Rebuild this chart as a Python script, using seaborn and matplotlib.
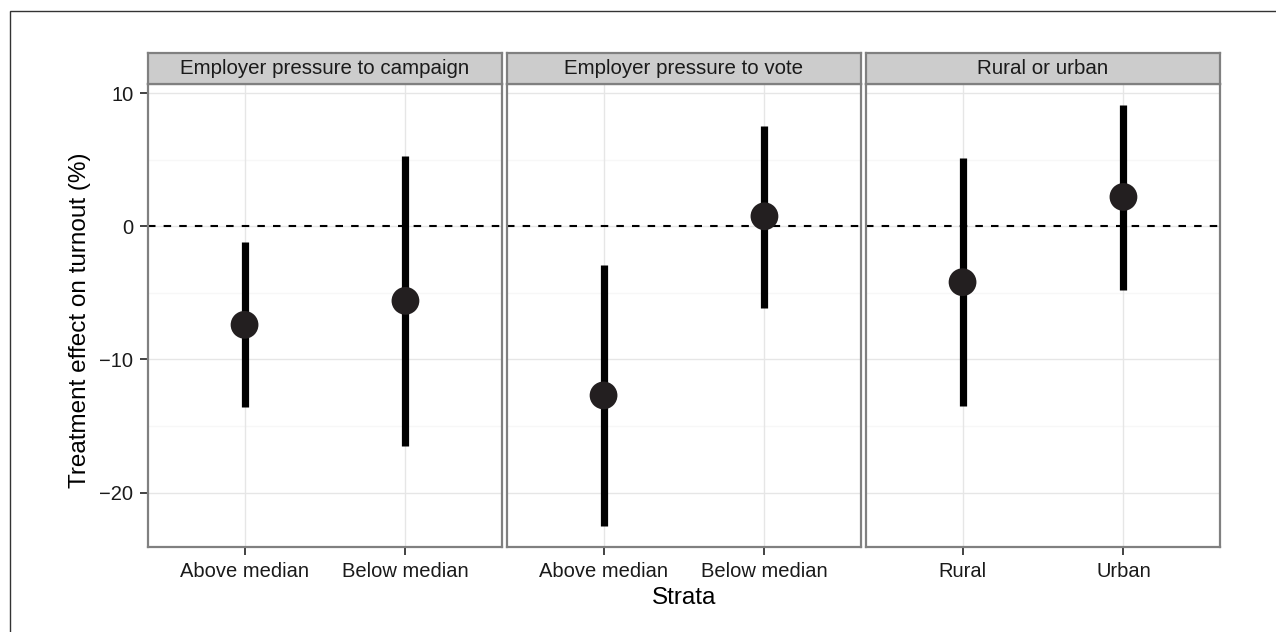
import numpy as np
import pandas as pd
import matplotlib
matplotlib.use("Agg")
import matplotlib.pyplot as plt
from matplotlib.patches import Rectangle
import seaborn as sns

# ---- data ----
panels = ["Employer pressure to campaign", "Employer pressure to vote", "Rural or urban"]
strata_1 = ["Above median", "Below median"]
strata_2 = ["Above median", "Below median"]
strata_3 = ["Rural", "Urban"]
estimate_1 = [-7.4, -5.6]
lower_1 = [-13.6, -16.5]
upper_1 = [-1.2, 5.3]
estimate_2 = [-12.7, 0.75]
lower_2 = [-22.5, -6.1]
upper_2 = [-2.9, 7.55]
estimate_3 = [-4.2, 2.2]
lower_3 = [-13.5, -4.8]
upper_3 = [5.15, 9.1]

y_major = [-20, -10, 0, 10]
y_minor = [-15, -5, 5]

frames = []
for p, s, e, lo, hi in zip(panels,
                           [strata_1, strata_2, strata_3],
                           [estimate_1, estimate_2, estimate_3],
                           [lower_1, lower_2, lower_3],
                           [upper_1, upper_2, upper_3]):
    frames.append(pd.DataFrame({"panel": p, "strata": s, "est": e, "lo": lo, "hi": hi}))
df = pd.concat(frames, ignore_index=True)

sns.set_theme(style="white")
plt.rcParams["font.family"] = ["Liberation Sans", "DejaVu Sans"]

W, H = 1276, 632
fig = plt.figure(figsize=(W / 100, H / 100), dpi=100)

# outer border of the figure
fig.patches.append(Rectangle((9.5 / W, -0.1), 1.2, 1.1 - 10.5 / H,
                             transform=fig.transFigure, fill=False,
                             edgecolor="#333333", linewidth=1.0))

panel_left = [148, 507, 866]
panel_w = 354
pan_top, pan_bot = 84, 547
strip_top = 53
grid_major = "#e6e6e6"
grid_minor = "#f7f7f7"
frame_col = "#808080"

ylim = (-24.08, 10.68)
tick_fs = 14.5

for i, p in enumerate(panels):
    sub = df[df["panel"] == p].reset_index(drop=True)
    ax = fig.add_axes([panel_left[i] / W, 1 - pan_bot / H, panel_w / W, (pan_bot - pan_top) / H])
    pos = np.arange(len(sub))
    # grid
    for yv in y_minor:
        ax.axhline(yv, color=grid_minor, lw=1.0, zorder=0)
    for yv in y_major:
        ax.axhline(yv, color=grid_major, lw=1.0, zorder=0)
    for xv in pos:
        ax.axvline(xv, color=grid_major, lw=1.0, zorder=0)
    # reference line
    ax.axhline(0, color="black", lw=1.5, dashes=(3.6, 3.9), zorder=1)
    # error bars
    ax.vlines(pos, sub["lo"], sub["hi"], color="black", lw=5.2, zorder=2)
    # points
    sns.scatterplot(data=sub, x=pos, y="est", ax=ax, s=400, color="#231f20",
                    edgecolor="none", zorder=3, legend=False)
    ax.set_xlim(-0.6, 1.6)
    ax.set_ylim(*ylim)
    ax.set_xticks(pos)
    ax.set_xticklabels(sub["strata"], fontsize=tick_fs, color="#1a1a1a")
    ax.set_yticks(y_major)
    if i == 0:
        ax.set_yticklabels([str(v).replace("-", "\u2212") for v in y_major],
                           fontsize=tick_fs, color="#1a1a1a")
    else:
        ax.set_yticklabels([])
        ax.tick_params(axis="y", length=0)
    ax.tick_params(axis="both", direction="out", length=6, width=1.3, color="#333333", pad=4.5,
                   bottom=True, left=(i == 0))
    ax.set_xlabel("")
    ax.set_ylabel("")
    for sp in ax.spines.values():
        sp.set_visible(True)
        sp.set_color(frame_col)
        sp.set_linewidth(1.6)
    ax.set_facecolor("white")

    # strip
    sax = fig.add_axes([panel_left[i] / W, 1 - pan_top / H, panel_w / W, (pan_top - strip_top) / H])
    sax.set_facecolor("#cccccc")
    sax.set_xticks([])
    sax.set_yticks([])
    for sp in sax.spines.values():
        sp.set_color(frame_col)
        sp.set_linewidth(1.6)
    sax.text(0.5, 0.5, p, ha="center", va="center", fontsize=14.8, color="#1a1a1a",
             transform=sax.transAxes)

fig.text(80 / W, 1 - 320 / H, "Treatment effect on turnout (%)", rotation=90,
         ha="center", va="center", fontsize=17.5, color="black")
fig.text(684 / W, 1 - 598 / H, "Strata", ha="center", va="center", fontsize=17.5, color="black")

fig.savefig("out.png", dpi=100)
